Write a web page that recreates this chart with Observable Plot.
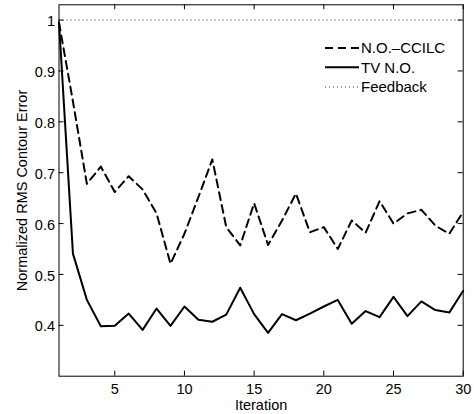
<!DOCTYPE html>
<html><head><meta charset="utf-8">
<script src="https://cdn.jsdelivr.net/npm/d3@7"></script>
<script src="https://cdn.jsdelivr.net/npm/@observablehq/plot@0.6"></script>
<style>
body{margin:0;background:#fff;}
#chart{position:relative;width:474px;height:414px;}
#legend{position:absolute;left:0;top:0;}
</style></head><body><div id="chart"></div>
<script>
const iterations = [1,2,3,4,5,6,7,8,9,10,11,12,13,14,15,16,17,18,19,20,21,22,23,24,25,26,27,28,29,30];
const ccilc = [0.995,0.84,0.678,0.712,0.662,0.693,0.667,0.62,0.521,0.58,0.652,0.726,0.593,0.557,0.64,0.558,0.606,0.659,0.583,0.593,0.55,0.606,0.582,0.644,0.6,0.62,0.627,0.596,0.58,0.623];
const tvno = [0.995,0.541,0.45,0.398,0.399,0.423,0.391,0.433,0.399,0.437,0.411,0.407,0.421,0.474,0.422,0.385,0.422,0.41,0.423,0.437,0.45,0.403,0.428,0.416,0.456,0.418,0.447,0.43,0.425,0.468];
const feedbackLevel = 1;
const seriesNames = ["N.O.\u2013CCILC","TV N.O.","Feedback"];
const seriesDash = ["8,5", null, "1,3"];
const seriesWidth = [2, 2, 1];
const xTicks = [5,10,15,20,25,30];
const yTicks = [0.4,0.5,0.6,0.7,0.8,0.9,1];
const xLabel = "Iteration";
const yLabel = "Normalized RMS Contour Error";

const font = "'Liberation Sans', Arial, Helvetica, sans-serif";
const rowsA = iterations.map((x,i)=>({x, y: ccilc[i]}));
const rowsB = iterations.map((x,i)=>({x, y: tvno[i]}));
const fmt = d => String(+d.toFixed(1));

const W = 474, H = 414, mL = 58.5, mR = 11.3, mT = 4.3, mB = 38.3;
const innerW = W - mL - mR, innerH = H - mT - mB, T = 5;

const chart = Plot.plot({
  width: W, height: H,
  marginLeft: mL, marginRight: mR, marginTop: mT, marginBottom: mB,
  style: {fontFamily: font, fontSize: "14.5px", background: "#fff", color: "#000"},
  x: {domain: [1, 30]},
  y: {domain: [0.3, 1.03]},
  marks: [
    Plot.ruleY([feedbackLevel], {stroke: "#333", strokeWidth: 1, strokeDasharray: seriesDash[2]}),
    Plot.line(rowsA, {x: "x", y: "y", stroke: "#000", strokeWidth: seriesWidth[0], strokeDasharray: seriesDash[0]}),
    Plot.line(rowsB, {x: "x", y: "y", stroke: "#000", strokeWidth: seriesWidth[1]}),
    Plot.frame({stroke: "#000", strokeWidth: 1}),
    // inward tick marks on all four sides
    Plot.tickX(xTicks, {x: d => d, stroke: "#000", strokeWidth: 1, insetTop: innerH - T}),
    Plot.tickX(xTicks, {x: d => d, stroke: "#000", strokeWidth: 1, insetBottom: innerH - T}),
    Plot.tickY(yTicks, {y: d => d, stroke: "#000", strokeWidth: 1, insetRight: innerW - T}),
    Plot.tickY(yTicks, {y: d => d, stroke: "#000", strokeWidth: 1, insetLeft: innerW - T}),
    Plot.axisX(xTicks, {anchor: "bottom", tickSize: 0, tickPadding: 7.5, label: null, fontSize: 14.5}),
    Plot.axisY(yTicks, {anchor: "left", tickSize: 0, tickPadding: 4, label: null, fontSize: 14.5, tickFormat: fmt, dy: 1.5}),
    Plot.text([xLabel], {frameAnchor: "bottom", dy: 33.3, lineAnchor: "bottom", textAnchor: "middle", fontSize: 14.5}),
    Plot.text([yLabel], {frameAnchor: "left", rotate: -90, dx: -31.8, lineAnchor: "bottom", textAnchor: "middle", fontSize: 14.5})
  ]
});
const host = document.getElementById("chart");
host.appendChild(chart);

// legend overlay
const leg = d3.select(host).append("svg").attr("id","legend")
  .attr("width", W).attr("height", H)
  .style("font-family", font).style("font-size", "15px");
const rowY = [48, 67.3, 87];
seriesNames.forEach((name, i) => {
  const g = leg.append("g").attr("transform", `translate(0,${rowY[i]})`);
  g.append("line").attr("x1", 325).attr("x2", 359).attr("y1", 0).attr("y2", 0)
    .attr("stroke", i === 2 ? "#333" : "#000").attr("stroke-width", seriesWidth[i])
    .attr("stroke-dasharray", seriesDash[i]);
  g.append("text").attr("x", 361).attr("y", 0).attr("dy", "0.35em").attr("fill", "#000").text(name);
});
</script></body></html>
